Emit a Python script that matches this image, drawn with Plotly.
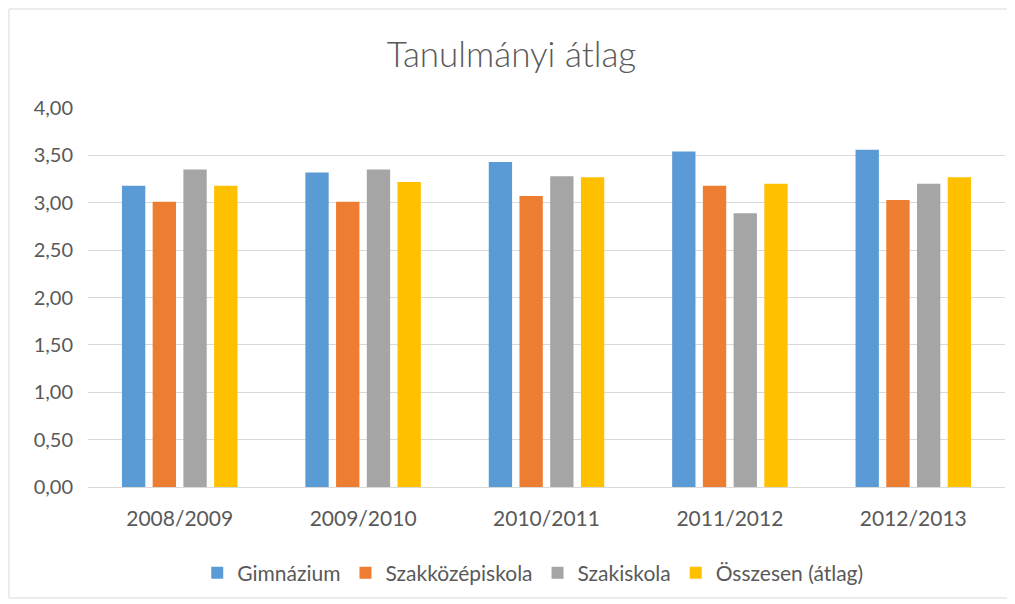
import plotly.graph_objects as go

years = ["2008/2009", "2009/2010", "2010/2011", "2011/2012", "2012/2013"]
gimnazium = [3.18, 3.32, 3.43, 3.54, 3.56]
szakkozep = [3.01, 3.01, 3.07, 3.18, 3.03]
szakiskola = [3.35, 3.35, 3.28, 2.89, 3.20]
osszesen = [3.18, 3.22, 3.27, 3.20, 3.27]
series_names = ["Gimnázium", "Szakközépiskola", "Szakiskola", "Összesen (átlag)"]
colors = ["#5b9bd5", "#ed7d31", "#a5a5a5", "#ffc000"]
y_ticks = [0, 0.5, 1, 1.5, 2, 2.5, 3, 3.5, 4]

FONT = "Lato, 'Open Sans', sans-serif"
W, H = 1007, 596
L, T, B, R = 80, 100, 117, 10
pw = W - L - R
ph = H - T - B

fig = go.Figure()
for name, vals, col in zip(series_names, [gimnazium, szakkozep, szakiskola, osszesen], colors):
    fig.add_trace(go.Bar(name=name, x=years, y=vals, marker=dict(color=col, line=dict(width=0))))

fig.update_layout(
    width=W, height=H,
    paper_bgcolor="white", plot_bgcolor="white",
    separators=",.",
    barmode="group", bargap=0.33, bargroupgap=0.24,
    margin=dict(l=L, r=R, t=T, b=B),
    title=dict(text="Tanulmányi átlag", x=0.5, xanchor="center", y=1 - 47 / H, yanchor="middle",
               font=dict(family=FONT, size=35, color="#595959", weight=300)),
    font=dict(family=FONT, size=20, color="#595959"),
    xaxis=dict(showgrid=False, showline=True, linecolor="#d9d9d9", linewidth=1, ticks="",
               ticklabelstandoff=13, tickfont=dict(size=21, color="#595959")),
    yaxis=dict(range=[0, 4], tickvals=y_ticks, tickformat=".2f", showgrid=True, gridcolor="#d9d9d9",
               zeroline=False, showline=False, ticks="", ticklabelstandoff=14,
               tickfont=dict(size=20, color="#595959")),
    legend=dict(orientation="h", x=0.485, xanchor="center", y=(ph - (565 - T)) / ph, yanchor="middle",
                font=dict(size=21, color="#595959"), itemwidth=30, traceorder="normal"),
    shapes=[dict(type="rect", xref="paper", yref="paper",
                 x0=(1 - L) / pw, x1=(1000 - L) / pw,
                 y0=(ph - (590 - T)) / ph, y1=(ph - (1 - T)) / ph,
                 line=dict(color="#d9d9d9", width=1), layer="below")],
)

fig.write_html("out.html")
